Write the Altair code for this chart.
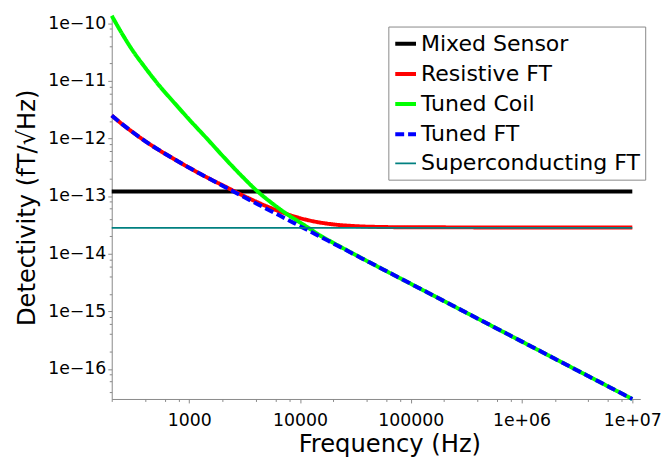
import altair as alt
import pandas as pd

# ---- data ----
freq = [200, 250, 300, 400, 550, 700, 1000, 1500, 2000, 3000, 4150, 5500, 7700,
        10000, 11600, 15000, 20000, 30000, 50000, 100000, 1000000, 10000000]

resistive_ft = [2.5e-12, 1.75e-12, 1.34e-12, 9.0e-13, 6.06e-13, 4.6e-13, 3.1e-13, 2.03e-13,
                1.54e-13, 1.04e-13, 7.77e-14, 6.15e-14, 4.83e-14, 4.14e-14, 3.85e-14,
                3.48e-14, 3.22e-14, 3.02e-14, 2.91e-14, 2.87e-14, 2.85e-14, 2.85e-14]

tuned_coil = [1.35e-10, 6.4e-11, 3.65e-11, 1.7e-11, 7.8e-12, 4.6e-12, 2.13e-12, 9.2e-13,
              5.0e-13, 2.2e-13, 1.2e-13, 7.7e-14, 4.8e-14, 3.48e-14, 2.9e-14,
              2.1e-14, 1.54e-14, 1.01e-14, 6.0e-15, 3.0e-15, 3.0e-16, 3.0e-17]

tuned_ft = [2.5e-12, 1.75e-12, 1.34e-12, 9.0e-13, 6.06e-13, 4.6e-13, 3.1e-13, 2.03e-13,
            1.51e-13, 1.0e-13, 7.23e-14, 5.45e-14, 3.9e-14, 3.0e-14, 2.59e-14,
            2.0e-14, 1.5e-14, 1.0e-14, 6.0e-15, 3.0e-15, 3.0e-16, 3.0e-17]

flat_freq = [200, 10000000]
mixed_sensor = [1.2e-13, 1.2e-13]
superconducting_ft = [2.8e-14, 2.8e-14]

series_names = ["Mixed Sensor", "Resistive FT", "Tuned Coil", "Tuned FT", "Superconducting FT"]
series_colors = ["#000000", "#ff0000", "#00ff00", "#0000ff", "#008080"]
series_dash = [[1, 0], [1, 0], [1, 0], [9, 4], [1, 0]]
series_width = [4, 4, 4, 4, 2]

x_domain = [200, 1.18e7]
y_domain = [3e-17, 1.35e-10]

# ---- table ----
rows = []
for f, v in zip(flat_freq, mixed_sensor):
    rows.append({"series": "Mixed Sensor", "freq": f, "value": v})
for f, v in zip(freq, resistive_ft):
    rows.append({"series": "Resistive FT", "freq": f, "value": v})
for f, v in zip(freq, tuned_coil):
    rows.append({"series": "Tuned Coil", "freq": f, "value": v})
for f, v in zip(freq, tuned_ft):
    rows.append({"series": "Tuned FT", "freq": f, "value": v})
for f, v in zip(flat_freq, superconducting_ft):
    rows.append({"series": "Superconducting FT", "freq": f, "value": v})
df = pd.DataFrame(rows)

# tick values: majors plus minor ticks at 2,4,6,8 x 10^k inside the domain
x_vals = [m * 10.0 ** k for k in range(2, 8) for m in (1, 2, 4, 6, 8)]
x_vals = [v for v in x_vals if x_domain[0] * 0.999 <= v <= x_domain[1]]
y_vals = [m * 10.0 ** k for k in range(-17, -9) for m in (1, 2, 4, 6, 8)]
y_vals = [v for v in y_vals if y_domain[0] <= v <= y_domain[1] * 1.0001]

is_major = "abs(log(datum.value)/LN10 - round(log(datum.value)/LN10)) < 1e-6"

x_axis = alt.Axis(
    values=x_vals,
    labelExpr=f"({is_major}) ? (datum.value >= 1e6 ? '1e+0' + format(round(log(datum.value)/LN10), 'd') : format(datum.value, 'd')) : ''",
    tickSize={"condition": {"test": is_major, "value": 4}, "value": 2.5},
    labelPadding=9,
    labelOverlap=False,
    labelFlush=False,
    title="Frequency (Hz)",
    titleX=281,
    titleY=53,
    titleBaseline="alphabetic",
    titleAlign="center",
)

y_axis = alt.Axis(
    values=y_vals,
    labelExpr=f"({is_major}) ? '1e\u2212' + format(round(-log(datum.value)/LN10), 'd') : ''",
    tickSize={"condition": {"test": is_major, "value": 4}, "value": 2.5},
    labelPadding=2,
    labelOverlap=False,
    labelFlush=False,
    title="Detectivity (fT/\u221aHz)",
    titleX=-78,
    titleY=194,
    titleAngle=270,
    titleBaseline="alphabetic",
    titleAlign="center",
)

legend = alt.Legend(title=None)

base = alt.Chart(df).mark_line(interpolate="monotone", strokeCap="butt").encode(
    x=alt.X("freq:Q", scale=alt.Scale(type="log", domain=x_domain, nice=False), axis=x_axis),
    y=alt.Y("value:Q", scale=alt.Scale(type="log", domain=y_domain, nice=False), axis=y_axis),
    color=alt.Color("series:N", scale=alt.Scale(domain=series_names, range=series_colors), legend=legend),
    strokeDash=alt.StrokeDash("series:N", scale=alt.Scale(domain=series_names, range=series_dash), legend=legend),
    strokeWidth=alt.StrokeWidth("series:N", scale=alt.Scale(type="ordinal", domain=series_names, range=series_width), legend=legend),
    order=alt.Order("freq:Q"),
)

layers = [base.transform_filter(alt.datum.series == s) for s in series_names]

chart = alt.layer(*layers).properties(
    width=535,
    height=388,
    autosize="none",
    padding={"left": 105, "top": 5, "right": 22, "bottom": 60},
).configure_view(
    stroke=None
).configure_axis(
    grid=False,
    labelFont="DejaVu Sans",
    labelFontSize=17.5,
    labelColor="#000000",
    titleFont="DejaVu Sans",
    titleFontSize=24.5,
    titleFontWeight="normal",
    titleColor="#000000",
    domainColor="#888888",
    tickColor="#888888",
    domainWidth=1,
    tickWidth=1,
).configure_legend(
    orient="none",
    legendX=280,
    legendY=11,
    padding=5,
    rowPadding=6.5,
    labelFont="DejaVu Sans",
    labelFontSize=22.3,
    labelColor="#000000",
    labelOffset=3,
    labelLimit=0,
    symbolType="stroke",
    symbolSize=441,
    strokeColor="#888888",
    fillColor="#ffffff",
    cornerRadius=0,
)

chart.save("out.html", embed_options={"renderer": "svg", "actions": False})
